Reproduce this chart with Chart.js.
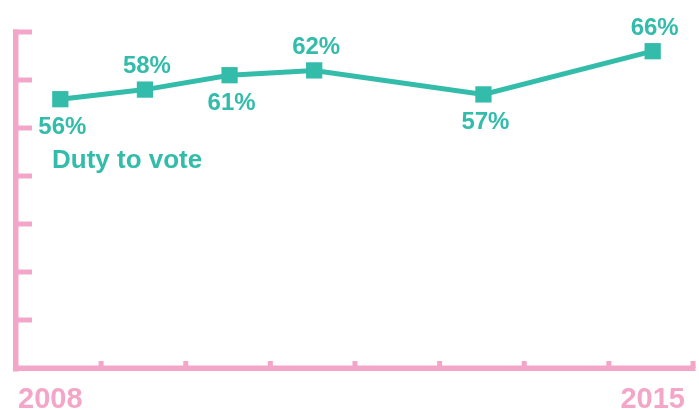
<!DOCTYPE html>
<html>
<head>
<meta charset="utf-8">
<script src="https://cdn.jsdelivr.net/npm/chart.js@4"></script>
<style>
  html, body { margin: 0; padding: 0; background: #ffffff; }
  #wrap { width: 699px; height: 410px; position: relative; }
</style>
</head>
<body>
<div id="wrap"><canvas id="c" width="699" height="410"></canvas></div>
<script>
const years = [2008, 2009, 2010, 2011, 2013, 2015];
const dutyToVote = [56, 58, 61, 62, 57, 66];
const seriesName = 'Duty to vote';
const axisYearLabels = [2008, 2015];
const labelSides = ['below', 'above', 'below', 'above', 'below', 'above'];

const TEAL = '#34bcaa';
const PINK = '#f4a6c8';
const FONT = '"Liberation Sans", Arial, Helvetica, sans-serif';

const customAxes = {
  id: 'customAxes',
  afterDraw(chart) {
    const ctx = chart.ctx;
    const xs = chart.scales.x, ys = chart.scales.y;
    const left = 16;
    const right = Math.min(xs.getPixelForValue(xs.max) - 2, 693);
    const bottom = ys.getPixelForValue(0);
    const top = ys.getPixelForValue(ys.max);
    ctx.save();
    ctx.fillStyle = PINK;
    // left axis
    ctx.fillRect(left - 3, top - 2.5, 5.5, bottom - top + 6);
    // bottom axis
    ctx.fillRect(left - 3, bottom - 2.5, right - left + 5.5, 5.5);
    // y ticks every 10
    for (let v = 10; v <= ys.max; v += 10) {
      const y = ys.getPixelForValue(v);
      ctx.fillRect(left - 3, y - 2.5, 19, 5);
    }
    // x ticks at half-year boundaries
    for (let v = xs.min + 1; v <= xs.max + 0.001; v += 1) {
      let x = xs.getPixelForValue(v) - 1.5;
      if (x > right) x = right;
      ctx.fillRect(x - 2.5, bottom - 7, 5, 7);
    }
    // x labels
    ctx.font = 'bold 29px ' + FONT;
    ctx.textBaseline = 'alphabetic';
    ctx.textAlign = 'left';
    ctx.fillText(String(axisYearLabels[0]), left + 2, 408);
    ctx.textAlign = 'right';
    ctx.fillText(String(axisYearLabels[1]), right - 8, 408);

    // data labels
    const meta = chart.getDatasetMeta(0);
    ctx.fillStyle = TEAL;
    ctx.font = 'bold 24px ' + FONT;
    ctx.textAlign = 'center';
    ctx.textBaseline = 'middle';
    meta.data.forEach((pt, i) => {
      const side = labelSides[i];
      const dy = side === 'below' ? 28 : -23;
      ctx.fillText(dutyToVote[i] + '%', pt.x + 2, pt.y + dy);
    });
    // series label
    ctx.font = 'bold 26px ' + FONT;
    ctx.textAlign = 'left';
    ctx.textBaseline = 'alphabetic';
    ctx.fillText(chart.data.datasets[0].label, 52, 168);
    ctx.restore();
  }
};

new Chart(document.getElementById('c'), {
  type: 'line',
  data: {
    datasets: [{
      label: seriesName,
      data: years.map((y, i) => ({ x: y, y: dutyToVote[i] })),
      borderColor: TEAL,
      backgroundColor: TEAL,
      borderWidth: 5,
      pointStyle: 'rect',
      pointRadius: 11.5,
      pointHoverRadius: 11.5,
      pointBorderWidth: 0,
      tension: 0,
      clip: false
    }]
  },
  options: {
    responsive: false,
    animation: false,
    devicePixelRatio: 1,
    layout: { autoPadding: false, padding: { left: 18, right: 4, top: 32, bottom: 42 } },
    plugins: { legend: { display: false }, tooltip: { enabled: false } },
    scales: {
      x: { type: 'linear', min: 2007.5, max: 2015.5, display: false },
      y: { min: 0, max: 70, display: false }
    }
  },
  plugins: [customAxes]
});
</script>
</body>
</html>
